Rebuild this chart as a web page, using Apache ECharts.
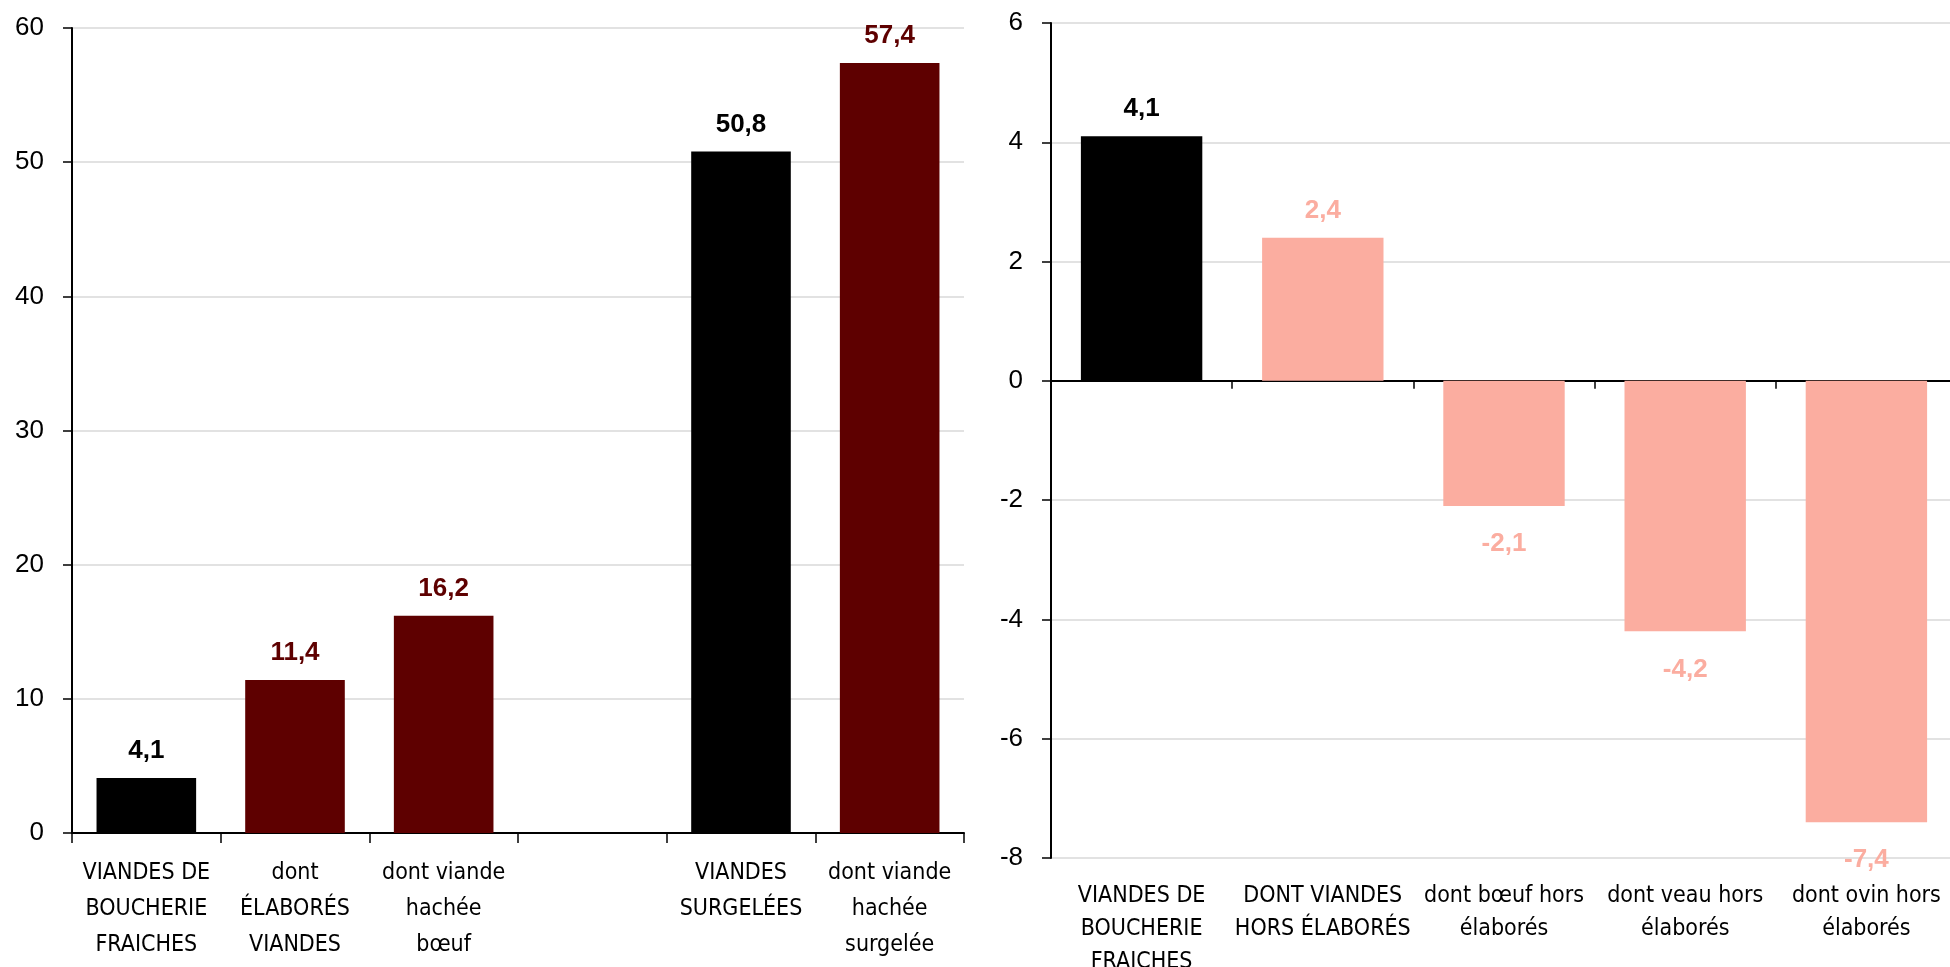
<!DOCTYPE html>
<html>
<head>
<meta charset="utf-8">
<script src="https://cdn.jsdelivr.net/npm/echarts@6/dist/echarts.min.js"></script>
<style>
  html, body { margin: 0; padding: 0; background: #fff; }
  #chart { width: 1950px; height: 967px; }
</style>
</head>
<body>
<div id="chart"></div>
<script>
(function () {
  'use strict';

  // left panel
  const leftCategories = [
    'VIANDES DE\nBOUCHERIE\nFRAICHES',
    'dont\nÉLABORÉS\nVIANDES',
    'dont viande\nhachée\nbœuf',
    '',
    'VIANDES\nSURGELÉES',
    'dont viande\nhachée\nsurgelée'
  ];
  const leftValues = [4.1, 11.4, 16.2, null, 50.8, 57.4];
  const leftTicks = [0, 10, 20, 30, 40, 50, 60];

  // right panel
  const rightCategories = [
    'VIANDES DE\nBOUCHERIE\nFRAICHES',
    'DONT VIANDES\nHORS ÉLABORÉS',
    'dont bœuf hors\nélaborés',
    'dont veau hors\nélaborés',
    'dont ovin hors\nélaborés'
  ];
  const rightValues = [4.1, 2.4, -2.1, -4.2, -7.4];
  const rightTicks = [-8, -6, -4, -2, 0, 2, 4, 6];

  const BLACK = '#000000';
  const DARK_RED = '#5e0000';
  const SALMON = '#fbada0';
  const leftColors = [BLACK, DARK_RED, DARK_RED, BLACK, BLACK, DARK_RED];
  const rightColors = [BLACK, SALMON, SALMON, SALMON, SALMON];

  const FONT = "'Liberation Sans', Arial, sans-serif";
  const NARROW = "'DejaVu Sans Condensed', 'Liberation Sans', sans-serif";

  const fmt = v => v.toFixed(1).replace('.', ',');

  function barData(values, colors) {
    return values.map((v, i) => {
      if (v === null) return '-';
      return {
        value: v,
        itemStyle: { color: colors[i] },
        label: { color: colors[i], position: v < 0 ? 'bottom' : 'top', distance: v < 0 ? 25 : 14 }
      };
    });
  }

  const gridLine = { show: true, lineStyle: { color: '#d9d9d9', width: 1.5 } };
  const axisLine = { show: true, lineStyle: { color: '#000', width: 2 } };
  const valueLabel = {
    show: true, fontFamily: FONT, fontSize: 26, fontWeight: 'bold',
    formatter: p => fmt(p.value)
  };

  const chart = echarts.init(document.getElementById('chart'));

  chart.setOption({
    animation: false,
    backgroundColor: '#fff',
    grid: [
      { left: 72, top: 28, width: 892, height: 805, outerBoundsMode: 'none', containLabel: false },
      { left: 1051, top: 23, width: 906, height: 835, outerBoundsMode: 'none', containLabel: false }
    ],
    xAxis: [
      {
        gridIndex: 0, type: 'category', data: leftCategories,
        axisLine: axisLine,
        axisTick: { show: true, length: 10, lineStyle: { color: '#000', width: 1.5 } },
        axisLabel: { interval: 0, margin: 22, color: '#000', fontFamily: NARROW, fontSize: 23, lineHeight: 36 },
        splitLine: { show: false }
      },
      {
        gridIndex: 1, type: 'category', data: rightCategories,
        axisLine: Object.assign({ onZero: true }, axisLine),
        axisTick: { show: true, length: 8, lineStyle: { color: '#000', width: 1.5 } },
        axisLabel: { show: false },
        splitLine: { show: false }
      },
      {
        gridIndex: 1, type: 'category', data: rightCategories, position: 'bottom',
        axisLine: { show: false, onZero: false },
        axisTick: { show: false },
        axisLabel: { interval: 0, margin: 22, color: '#000', fontFamily: NARROW, fontSize: 23, lineHeight: 33 },
        splitLine: { show: false }
      }
    ],
    yAxis: [
      {
        gridIndex: 0, type: 'value',
        min: leftTicks[0], max: leftTicks[leftTicks.length - 1], interval: leftTicks[1] - leftTicks[0],
        axisLine: axisLine,
        axisTick: { show: true, length: 9, lineStyle: { color: '#000', width: 1.5 } },
        axisLabel: { margin: 28, color: '#000', fontFamily: FONT, fontSize: 26 },
        splitLine: gridLine
      },
      {
        gridIndex: 1, type: 'value',
        min: rightTicks[0], max: rightTicks[rightTicks.length - 1], interval: rightTicks[1] - rightTicks[0],
        axisLine: axisLine,
        axisTick: { show: true, length: 9, lineStyle: { color: '#000', width: 1.5 } },
        axisLabel: { margin: 28, color: '#000', fontFamily: FONT, fontSize: 26 },
        splitLine: gridLine
      }
    ],
    series: [
      {
        type: 'bar', xAxisIndex: 0, yAxisIndex: 0,
        barCategoryGap: '33%',
        data: barData(leftValues, leftColors),
        label: valueLabel
      },
      {
        type: 'bar', xAxisIndex: 1, yAxisIndex: 1,
        barCategoryGap: '33%',
        data: barData(rightValues, rightColors),
        label: valueLabel
      }
    ]
  });
})();
</script>
</body>
</html>
